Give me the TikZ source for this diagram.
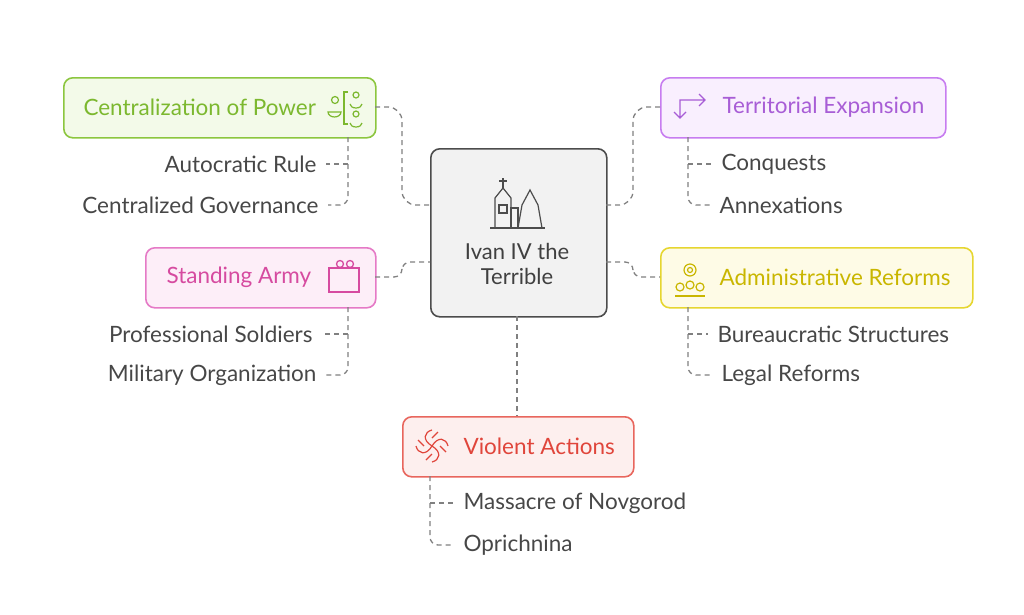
\documentclass[tikz,border=0pt]{standalone}
\usepackage{fontspec}
\setmainfont{Lato}
\begin{document}
\begin{tikzpicture}[x=1pt,y=-1pt,
 box/.style={draw,line width=1.6pt,rounded corners=9pt,minimum height=60pt,anchor=north west,inner sep=0pt},
 lab/.style={font=\fontsize{22.5}{26}\selectfont},
 kid/.style={font=\fontsize{22.5}{26}\selectfont,text=black!72},
 dl/.style={draw=black!50,line width=1.3pt,dash pattern=on 5pt off 4pt,rounded corners=8pt},
 dk/.style={dl,shorten >=6pt}]
\useasboundingbox (0,0) rectangle (1024,614);
\definecolor{gB}{HTML}{8CC63F}\definecolor{gF}{HTML}{F3FAE9}\definecolor{gT}{HTML}{7CB82F}
\definecolor{pB}{HTML}{C77DF0}\definecolor{pF}{HTML}{F9EFFE}\definecolor{pT}{HTML}{A85DD6}
\definecolor{kB}{HTML}{E57AC6}\definecolor{kF}{HTML}{FDEEF8}\definecolor{kT}{HTML}{D64BA0}
\definecolor{yB}{HTML}{E6D630}\definecolor{yF}{HTML}{FEFBE6}\definecolor{yT}{HTML}{C9B600}
\definecolor{rB}{HTML}{E8665D}\definecolor{rF}{HTML}{FDEFEE}\definecolor{rT}{HTML}{E0453B}
% center
\node[box,draw=black!70,fill=black!5,minimum width=176pt,minimum height=168pt] (c) at (430,148) {};
\node[font=\fontsize{22}{25}\selectfont,text=black!75,align=center] (ct) at (517,264) {Ivan IV the\\Terrible};
\begin{scope}[draw=black!70,line width=1.2pt]
\draw (495,228) -- (495,198) -- (503,188) -- (511,198) -- (511,228);
\draw (503,188) -- (503,178) (499,181)--(507,181);
\draw (499,205) rectangle (507,213);
\draw (511,228) -- (511,208) -- (518,208) -- (518,228);
\draw (518,228) -- (522,205) -- (530,190) -- (538,205) -- (542,228);
\draw (490,228) -- (545,228);
\end{scope}
% boxes
\node[box,draw=gB,fill=gF,minimum width=312pt] (cp) at (63,77) {};
\node[lab,text=gT,anchor=west] at (80,107) {Centralization of Power};
\node[box,draw=pB,fill=pF,minimum width=285pt] (te) at (660,77) {};
\node[lab,text=pT,anchor=west] at (719,107) {Territorial Expansion};
\node[box,draw=kB,fill=kF,minimum width=230pt] (sa) at (145,247) {};
\node[lab,text=kT,anchor=west] at (163,277) {Standing Army};
\node[box,draw=yB,fill=yF,minimum width=312pt] (ar) at (660,247) {};
\node[lab,text=yT,anchor=west] at (716,277) {Administrative Reforms};
\node[box,draw=rB,fill=rF,minimum width=231pt] (va) at (402,416) {};
\node[lab,text=rT,anchor=west] at (460,446) {Violent Actions};
% icons
\begin{scope}[draw=gT,line width=1.2pt]
\draw (335,100) circle (3.5) (328,112) arc (180:0:6.5 and 5) -- cycle;
\draw (348,92)--(344,92)--(344,124)--(348,124);
\draw (356,95) circle (3) (350,104) arc (180:0:6 and 4);
\draw (356,114) circle (3) (350,123) arc (180:0:6 and 4);
\end{scope}
\begin{scope}[draw=pT,line width=1.3pt]
\draw (680,118) -- (680,100) -- (705,100) (699,94)--(705,100)--(699,106) (674,112)--(680,118)--(686,112);
\end{scope}
\begin{scope}[draw=kT,line width=1.3pt]
\draw (329,268) rectangle (359,292);
\draw (340,264) circle (3.5) (350,264) circle (3.5);
\end{scope}
\begin{scope}[draw=yT,line width=1.2pt]
\draw (690,270) circle (6) (690,270) circle (2.5);
\draw (680,287) circle (4) (690,285) circle (4) (700,287) circle (4);
\draw (675,296)--(705,296);
\end{scope}
\begin{scope}[draw=rT,line width=1.2pt]
\foreach \a in {0,90,180,270}{\draw[rotate around={\a:(432,446)}] (432,446) .. controls (438,436) and (446,438) .. (448,446) (440,446)--(446,452);}
\end{scope}
% children
\node[kid,anchor=east] (a1) at (320,164) {Autocratic Rule};
\node[kid,anchor=east] (a2) at (322,205) {Centralized Governance};
\node[kid,anchor=west] (b1) at (718,164) {Conquests};
\node[kid,anchor=west] (b2) at (716,205) {Annexations};
\node[kid,anchor=east] (s1) at (316,334) {Professional Soldiers};
\node[kid,anchor=east] (s2) at (320,375) {Military Organization};
\node[kid,anchor=west] (r1) at (714,334) {Bureaucratic Structures};
\node[kid,anchor=west] (r2) at (718,375) {Legal Reforms};
\node[kid,anchor=west] (v1) at (460,503) {Massacre of Novgorod};
\node[kid,anchor=west] (v2) at (460,545) {Oprichnina};
% child connectors
\draw[dk] (348,137) -- (348,205) -- (a2.east);
\draw[dk] (348,164) -- (a1.east);
\draw[dk] (688,137) -- (688,205) -- (b2.west);
\draw[dk] (688,164) -- (b1.west);
\draw[dk] (348,307) -- (348,375) -- (s2.east);
\draw[dk] (348,334) -- (s1.east);
\draw[dk] (688,307) -- (688,375) -- (r2.west);
\draw[dk] (688,334) -- (r1.west);
\draw[dk] (430,476) -- (430,545) -- (v2.west);
\draw[dk] (430,503) -- (v1.west);
% center connectors
\draw[dl,rounded corners=14pt] (375,107) -- (402,107) -- (402,205) -- (430,205);
\draw[dl,rounded corners=14pt] (606,205) -- (633,205) -- (633,107) -- (660,107);
\draw[dl,rounded corners=8pt] (375,277) -- (402,277) -- (402,262) -- (430,262);
\draw[dl,rounded corners=8pt] (606,262) -- (633,262) -- (633,277) -- (660,277);
\draw[dl] (517,316) -- (517,416);
\end{tikzpicture}
\end{document}
